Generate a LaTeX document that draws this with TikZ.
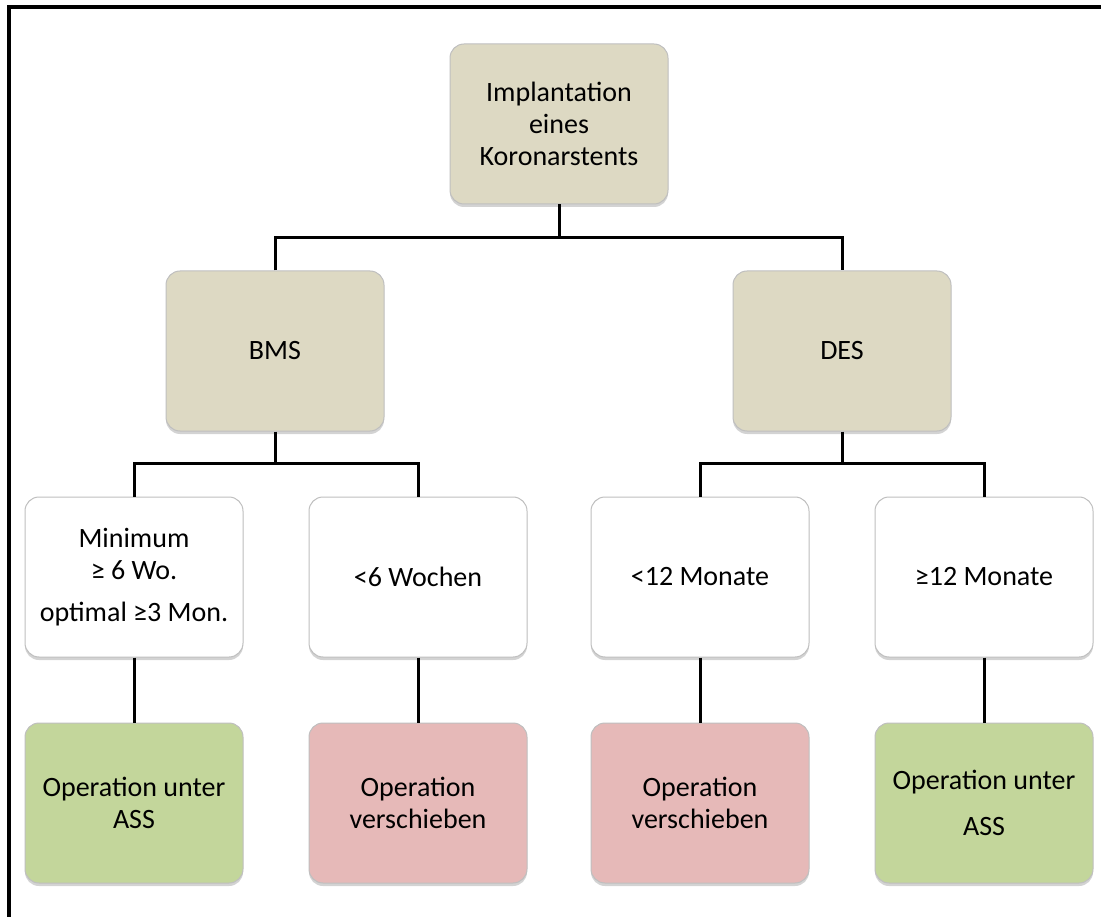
\documentclass[tikz,border=0pt]{standalone}
\usepackage{fontspec}
\setmainfont{Carlito}
\usetikzlibrary{shadows}
\definecolor{tanbox}{HTML}{DDD9C3}
\definecolor{greenbox}{HTML}{C3D69B}
\definecolor{pinkbox}{HTML}{E6B9B8}
\definecolor{edgegray}{HTML}{BFBFBF}
\begin{document}
\begin{tikzpicture}[x=1pt,y=-1pt,
  box/.style={rounded corners=14pt, minimum width=218pt, minimum height=160pt,
    align=center, font=\fontsize{28}{32}\selectfont, draw=edgegray, line width=1pt,
    drop shadow={shadow xshift=0pt, shadow yshift=-3pt, opacity=0.35}},
  tanstyle/.style={box, fill=tanbox},
  whitestyle/.style={box, fill=white},
  goodstyle/.style={box, fill=greenbox},
  badstyle/.style={box, fill=pinkbox},
  conn/.style={line width=3pt, draw=black},
  frame/.style={line width=3.5pt, draw=black}]
\useasboundingbox (0,0) rectangle (1101,917);
\draw[frame] (9,917) -- (9,7) -- (1101,7);

\node[tanstyle] (root) at (559,124) {Implantation\\eines\\Koronarstents};
\node[tanstyle] (bms) at (275,351) {BMS};
\node[tanstyle] (des) at (842,351) {DES};

\node[whitestyle] (w1) at (134,577) {Minimum\\≥ 6 Wo.\\[10pt]optimal ≥3 Mon.};
\node[whitestyle] (w2) at (418,577) {<6 Wochen};
\node[whitestyle] (w3) at (700,577) {<12 Monate};
\node[whitestyle] (w4) at (984,577) {≥12 Monate};

\node[goodstyle] (r1) at (134,803) {Operation unter\\ASS};
\node[badstyle] (r2) at (418,803) {Operation\\verschieben};
\node[badstyle] (r3) at (700,803) {Operation\\verschieben};
\node[goodstyle] (r4) at (984,803) {Operation unter\\[14pt]ASS};

\coordinate (j1) at (559,238);
\coordinate (j2) at (275,463);
\coordinate (j3) at (842,463);

\draw[conn] (root.south) -- (j1);
\draw[conn] (bms.north) -- (bms.north |- j1) -- (des.north |- j1) -- (des.north);
\draw[conn] (bms.south) -- (j2);
\draw[conn] (w1.north) -- (w1.north |- j2) -- (w2.north |- j2) -- (w2.north);
\draw[conn] (des.south) -- (j3);
\draw[conn] (w3.north) -- (w3.north |- j3) -- (w4.north |- j3) -- (w4.north);
\draw[conn] (w1.south) -- (r1.north);
\draw[conn] (w2.south) -- (r2.north);
\draw[conn] (w3.south) -- (r3.north);
\draw[conn] (w4.south) -- (r4.north);
\end{tikzpicture}
\end{document}
